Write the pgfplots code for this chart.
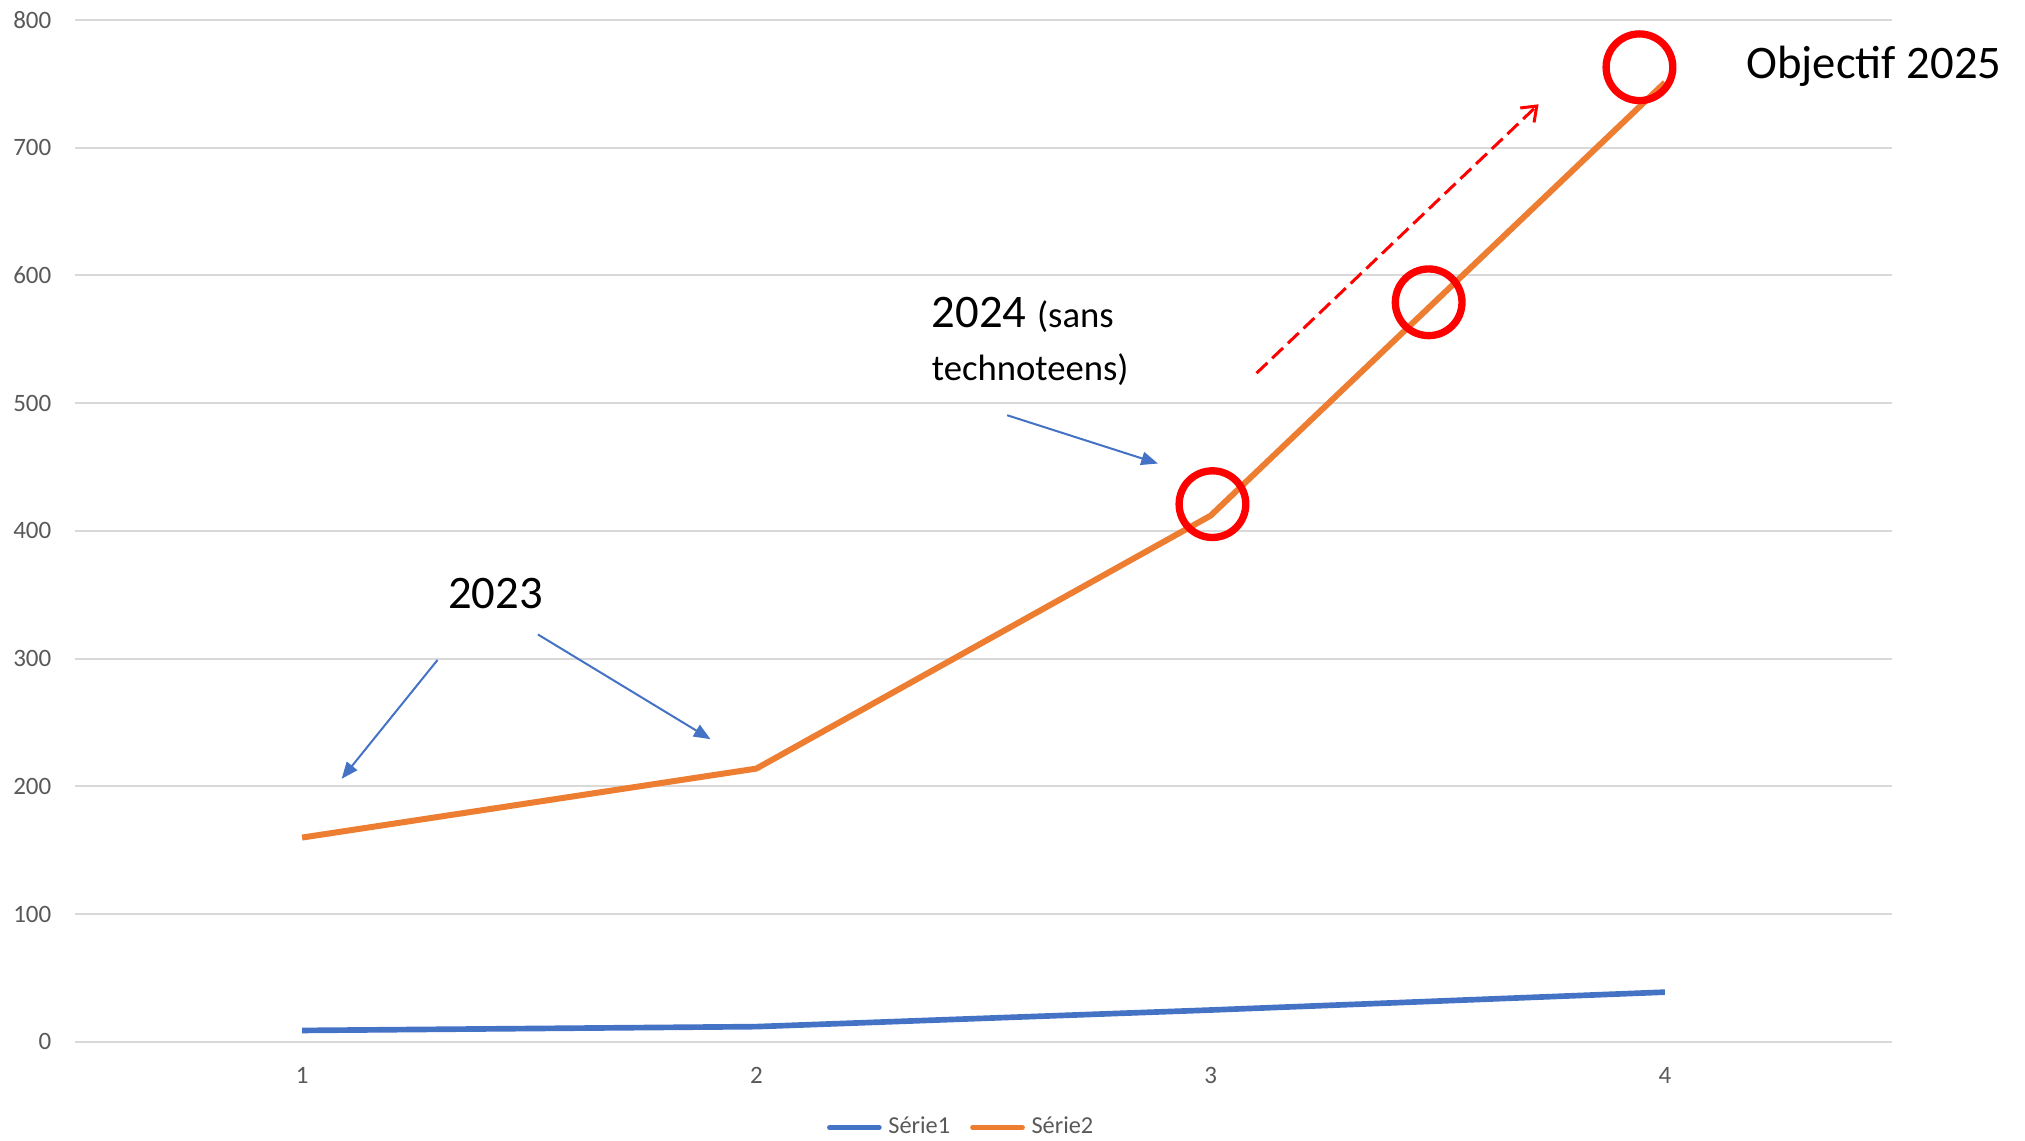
\documentclass[border=0pt]{standalone}
\usepackage{fontspec}
\setmainfont{Carlito}
\usepackage{pgfplots}
\pgfplotsset{compat=1.18}
\usetikzlibrary{arrows.meta}
\definecolor{s1}{HTML}{4472C4}
\definecolor{s2}{HTML}{ED7D31}
\definecolor{gridc}{HTML}{D9D9D9}
\definecolor{tickc}{HTML}{595959}
\definecolor{rouge}{HTML}{FF0000}

\begin{document}
\begin{tikzpicture}
\begin{axis}[
    name=ax,
    scale only axis,
    width=545.1pt, height=306.6pt,
    xmin=0.5, xmax=4.5,
    ymin=0, ymax=800,
    xtick={1,2,3,4},
    ytick={0,100,...,800},
    axis line style={draw=none},
    major tick length=0pt,
    ymajorgrids,
    grid style={gridc, line width=0.6pt},
    tick label style={font=\fontsize{7.5}{8}\selectfont, text=tickc, inner sep=0pt},
    xticklabel style={anchor=north, yshift=-7.5pt},
    yticklabel style={anchor=east, xshift=-6.9pt},
    /pgf/number format/assume math mode=true,
    clip=false,
    legend style={
        at={(0.489,-0.0837)}, anchor=center,
        draw=none, fill=none,
        font=\fontsize{7.3}{8}\selectfont, text=tickc,
        legend columns=2,
        inner sep=0pt,
        /tikz/every even column/.append style={column sep=4pt},
    },
    legend image code/.code={
        \draw[#1, line width=1.4pt, line cap=round] (0pt,0pt) -- (15pt,0pt);
    },
]

\addplot[s1, line width=1.7pt, line join=round]
    coordinates {(1,9)(2,12)(3,25)(4,39)};
\addlegendentry{Série1}

\addplot[s2, line width=1.8pt, line join=round]
    coordinates {(1,160)(2,214)(3,412)(4,751)};
\addlegendentry{Série2}

% cercles rouges
\addplot[rouge, only marks, mark=o, mark size=10pt, line width=2.2pt, forget plot]
    coordinates {(3.004,421)(3.48,579)(3.944,763)};

% fleches et textes
\draw[s1, line width=0.6pt, -{Triangle[length=5pt,width=4pt]}]
    (axis cs:1.298,299) -- (axis cs:1.087,206);
\draw[s1, line width=0.6pt, -{Triangle[length=5pt,width=4pt]}]
    (axis cs:1.519,319) -- (axis cs:1.899,237);
\draw[s1, line width=0.6pt, -{Triangle[length=5pt,width=4pt]}]
    (axis cs:2.552,490.6) -- (axis cs:2.884,452.8);
\draw[rouge, line width=0.9pt, dash pattern=on 4.5pt off 2pt, -{Straight Barb[length=4pt,width=6pt]}]
    (axis cs:3.101,523.5) -- (axis cs:3.722,734);

\node[anchor=base, inner sep=0pt, font=\fontsize{14}{16}\selectfont]
    at (axis cs:1.426,339.6) {2023};
\node[anchor=base west, inner sep=0pt]
    at (axis cs:2.385,559.5) {\fontsize{14}{16}\selectfont 2024 \fontsize{11}{13}\selectfont(sans};
\node[anchor=base west, inner sep=0pt, font=\fontsize{11}{13}\selectfont]
    at (axis cs:2.385,518) {technoteens)};
\node[anchor=base west, inner sep=0pt, font=\fontsize{14}{16}\selectfont]
    at (axis cs:4.178,754.3) {Objectif 2025};

\end{axis}
\pgfresetboundingbox
\useasboundingbox ([shift={(-22.5pt,-29.7pt)}]ax.south west) rectangle ([shift={(39.9pt,6pt)}]ax.north east);
\end{tikzpicture}
\end{document}
